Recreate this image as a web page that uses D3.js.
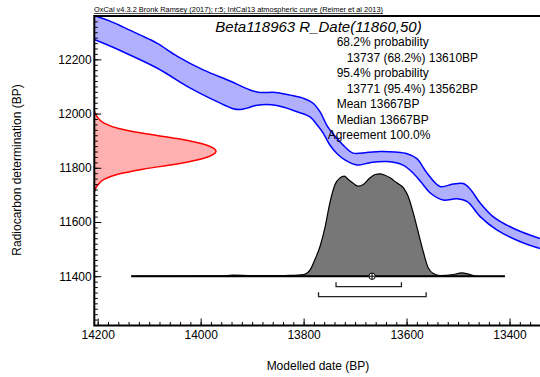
<!DOCTYPE html>
<html>
<head>
<meta charset="utf-8">
<script src="https://cdn.jsdelivr.net/npm/d3@7"></script>
<style>
body { margin: 0; background: #fff; }
text { font-family: "Liberation Sans", Arial, sans-serif; fill: #000; }
</style>
</head>
<body>
<div id="chart"></div>
<script>
var W = 540, H = 377;

var headerText = "OxCal v4.3.2 Bronk Ramsey (2017); r:5; IntCal13 atmospheric curve (Reimer et al 2013)";
var titleText = "Beta118963 R_Date(11860,50)";
var infoLines = ["68.2% probability", "13737 (68.2%) 13610BP", "95.4% probability",
	"13771 (95.4%) 13562BP", "Mean 13667BP", "Median 13667BP", "Agreement 100.0%"];
var xLabel = "Modelled date (BP)",
	yLabel = "Radiocarbon determination (BP)";
var xTickValues = [14200, 14000, 13800, 13600, 13400],
	yTickValues = [11400, 11600, 11800, 12000, 12200];

// calibration curve band edges: [cal BP, 14C BP]
var curveUpper = [[14207,12362],[14176,12341],[14150,12319],[14118,12290],[14085,12260],[14046,12212],
	[13995,12161],[13943,12120],[13904,12087],[13885,12078],[13855,12078],[13826,12068],[13797,12054],
	[13782,12039],[13768,12006],[13754,11954],[13741,11921],[13719,11876],[13704,11854],[13677,11856],
	[13651,11860],[13622,11858],[13599,11852],[13580,11834],[13560,11780],[13535,11731],[13510,11740],
	[13490,11742],[13477,11723],[13457,11670],[13432,11620],[13393,11577],[13341,11539]];
var curveLower = [[14207,12273],[14176,12249],[14150,12227],[14085,12168],[14020,12094],[13968,12044],
	[13937,12018],[13923,12015],[13910,12020],[13890,12031],[13852,12030],[13813,12007],[13787,11987],
	[13772,11954],[13762,11928],[13749,11884],[13735,11852],[13719,11828],[13696,11810],[13671,11819],
	[13638,11823],[13607,11810],[13587,11780],[13570,11743],[13554,11707],[13529,11681],[13502,11686],
	[13482,11675],[13457,11620],[13424,11570],[13380,11528],[13341,11502]];

// R_Date likelihood: [14C BP, relative probability]
var rDate = [[12010,0],[11990,0.02],[11965,0.08],[11945,0.2],[11927,0.4],[11908,0.68],[11884,0.92],
	[11861,1],[11838,0.92],[11814,0.68],[11795,0.4],[11777,0.2],[11757,0.08],[11732,0.02],[11710,0]];

// calibrated distribution: [cal BP, relative probability]
var posterior = [[14135,0],[13960,0.004],[13937,0.01],[13900,0.006],[13850,0.006],[13826,0.008],
	[13800,0.017],[13787,0.065],[13778,0.163],[13768,0.293],[13758,0.488],[13749,0.717],[13739,0.896],
	[13729,0.961],[13721,0.977],[13713,0.944],[13703,0.905],[13694,0.879],[13684,0.896],[13671,0.961],
	[13661,0.993],[13652,1.0],[13642,0.986],[13632,0.961],[13619,0.912],[13606,0.863],[13597,0.781],
	[13587,0.619],[13577,0.424],[13567,0.229],[13558,0.082],[13548,0.026],[13535,0.007],[13509,0.017],
	[13493,0.033],[13477,0.017],[13463,0],[13409,0]];

var range68 = [13737, 13610],
	range95 = [13771, 13562],
	meanBP = 13667,
	postExtent = [14135, 13409];

var plotLeft = 94.3, plotTop = 16, plotBottom = 325.5;

var x = d3.scaleLinear().domain([14206.6, 13340.8]).range([plotLeft, W]),
	y = d3.scaleLinear().domain([11219, 12361]).range([325.3, 15.7]),
	rWidth = d3.scaleLinear().domain([0, 1]).range([0, 121.7]),
	pHeight = d3.scaleLinear().domain([0, 1]).range([0, 102.4]);

var svg = d3.select('#chart').append('svg')
	.attr('width', W)
	.attr('height', H);

svg.append('defs').append('clipPath')
	.attr('id', 'clip')
	.append('rect')
	.attr('x', plotLeft)
	.attr('y', plotTop)
	.attr('width', W - plotLeft)
	.attr('height', plotBottom - plotTop);

var plot = svg.append('g').attr('clip-path', 'url(#clip)');

/* calibration curve */
var edgeLine = d3.line()
	.x(function(d) { return x(d[0]); })
	.y(function(d) { return y(d[1]); })
	.curve(d3.curveCatmullRom);

plot.append('path')
	.attr('d', edgeLine(curveUpper) + 'L' + edgeLine(curveLower.slice().reverse()).slice(1) + 'Z')
	.attr('fill', '#b0b0ff')
	.attr('stroke', 'none');

[curveUpper, curveLower].forEach(function(c) {
	plot.append('path')
		.attr('d', edgeLine(c))
		.attr('fill', 'none')
		.attr('stroke', '#0000ff')
		.attr('stroke-width', 1.5);
});

/* radiocarbon date on the y axis */
var rArea = d3.area()
	.y(function(d) { return y(d[0]); })
	.x0(plotLeft)
	.x1(function(d) { return plotLeft + rWidth(d[1]); })
	.curve(d3.curveMonotoneY);

plot.append('path')
	.datum(rDate)
	.attr('d', rArea)
	.attr('fill', '#ffb0b0');

plot.append('path')
	.datum(rDate)
	.attr('d', rArea.lineX1())
	.attr('fill', 'none')
	.attr('stroke', '#ff0000')
	.attr('stroke-width', 1.5);

/* calibrated distribution */
var base = y(11400);
var pArea = d3.area()
	.x(function(d) { return x(d[0]); })
	.y0(base)
	.y1(function(d) { return base - pHeight(d[1]); })
	.curve(d3.curveMonotoneX);

plot.append('path')
	.datum(posterior)
	.attr('d', pArea)
	.attr('fill', '#777777')
	.attr('stroke', '#000')
	.attr('stroke-width', 1.2);

plot.append('line')
	.attr('x1', x(postExtent[0]))
	.attr('x2', x(postExtent[1]))
	.attr('y1', base)
	.attr('y2', base)
	.attr('stroke', '#000')
	.attr('stroke-width', 2);

// ranges
[[range68, 286.7], [range95, 296.7]].forEach(function(r) {
	var x0 = x(r[0][0]), x1 = x(r[0][1]), yy = r[1];
	plot.append('path')
		.attr('d', 'M' + x0 + ',' + (yy - 4.5) + 'V' + yy + 'H' + x1 + 'V' + (yy - 4.5))
		.attr('fill', 'none')
		.attr('stroke', '#222')
		.attr('stroke-width', 1.3);
});

// mean marker
var mx = x(meanBP);
plot.append('circle')
	.attr('cx', mx)
	.attr('cy', base)
	.attr('r', 3.2)
	.attr('fill', '#fff')
	.attr('stroke', '#000')
	.attr('stroke-width', 1);
plot.append('path')
	.attr('d', 'M' + (mx - 3.2) + ',' + base + 'H' + (mx + 3.2) + 'M' + mx + ',' + (base - 3.2) + 'V' + (base + 3.2))
	.attr('stroke', '#000')
	.attr('stroke-width', 1);

/* axes */
var fmt = d3.format('d');
var xMinor = d3.axisBottom(x).tickValues(d3.range(13360, 14220, 20)).tickSize(-3.5).tickFormat(''),
	xMajor = d3.axisBottom(x).tickValues(xTickValues).tickSize(-7).tickPadding(4.5).tickFormat(fmt),
	yMinor = d3.axisLeft(y).tickValues(d3.range(11220, 12361, 20)).tickSize(-3.5).tickFormat(''),
	yMajor = d3.axisLeft(y).tickValues(yTickValues).tickSize(-7).tickPadding(2.6).tickFormat(fmt);

[xMinor, xMajor].forEach(function(a) {
	var g = svg.append('g')
		.attr('transform', 'translate(0,' + plotBottom + ')')
		.call(a);
	g.select('.domain').remove();
	g.selectAll('text').attr('font-size', 12).attr('font-family', '"Liberation Sans", Arial, sans-serif');
	g.selectAll('line').attr('stroke', '#000');
});

[yMinor, yMajor].forEach(function(a) {
	var g = svg.append('g')
		.attr('transform', 'translate(' + plotLeft + ',0)')
		.call(a);
	g.select('.domain').remove();
	g.selectAll('text').attr('font-size', 12).attr('font-family', '"Liberation Sans", Arial, sans-serif');
	g.selectAll('line').attr('stroke', '#000');
});

// frame
svg.append('path')
	.attr('d', 'M' + W + ',' + plotTop + 'H' + plotLeft + 'V' + plotBottom + 'H' + W)
	.attr('fill', 'none')
	.attr('stroke', '#000')
	.attr('stroke-width', 2);

/* texts */
svg.append('text')
	.attr('x', 94)
	.attr('y', 12)
	.attr('font-size', 7)
	.attr('textLength', 289)
	.attr('lengthAdjust', 'spacingAndGlyphs')
	.style('text-decoration', 'underline')
	.text(headerText);

svg.append('text')
	.attr('x', 318.5)
	.attr('y', 31.7)
	.attr('text-anchor', 'middle')
	.attr('font-size', 15)
	.attr('font-style', 'italic')
	.text(titleText);

var infoIndent = [0, 10, 0, 10, 0, 0, -9];
infoLines.forEach(function(t, i) {
	svg.append('text')
		.attr('x', 336.7 + infoIndent[i])
		.attr('y', 46 + i * 15.55)
		.attr('font-size', 12)
		.text(t);
});

svg.append('text')
	.attr('x', 318)
	.attr('y', 370)
	.attr('text-anchor', 'middle')
	.attr('font-size', 12)
	.text(xLabel);

svg.append('text')
	.attr('transform', 'translate(21,170) rotate(-90)')
	.attr('text-anchor', 'middle')
	.attr('font-size', 12)
	.text(yLabel);
</script>
</body>
</html>
